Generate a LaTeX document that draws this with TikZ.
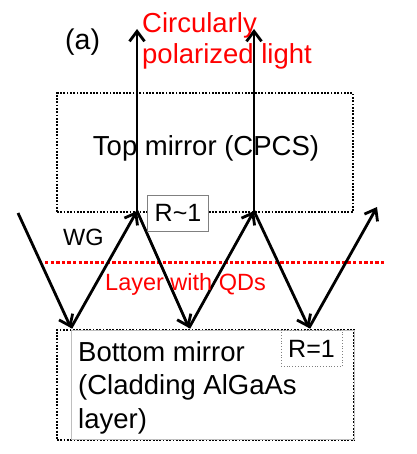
\documentclass[tikz,border=0pt]{standalone}
\usepackage{fontspec}
\setmainfont{Liberation Sans}
\usetikzlibrary{arrows.meta,positioning}

\begin{document}
\begin{tikzpicture}[x=1pt,y=-1pt,
		ray/.style={line width=2.8pt,-{Straight Barb[length=10pt,width=15pt]}},
		mirror/.style={draw,line width=2pt,dash pattern=on 1.8pt off 1.5pt},
		rbox/.style={draw=gray,line width=0.8pt,minimum width=61,minimum height=36,inner sep=0pt,font=\fontsize{25}{30}\selectfont},
		lbl/.style={inner sep=0pt,anchor=base west,font=\fontsize{27.5}{31.5}\selectfont}]
		\useasboundingbox (0,0) rectangle (416,454);
		% mirrors
		\node[mirror,minimum width=296,minimum height=119] (top) at (205,152.5) {};
		\node[lbl,anchor=base] (toplbl) at (206,156) {Top mirror (CPCS)};
		\node[mirror,minimum width=297,minimum height=110] (bot) at (205.5,384.5) {};
		\node[draw=gray!50,line width=0.6pt,minimum width=283,minimum height=109,inner sep=0pt] (botbox) at (212.5,384.5) {};
		\node[lbl,anchor=west,align=left,font=\fontsize{27.5}{33.5}\selectfont] (botlbl) at (78,387.5)
			{Bottom mirror\\(Cladding AlGaAs\\layer)};
		% layer with QDs
		\coordinate (qa) at (45,262);
		\coordinate (qb) at (386,262);
		\draw[red,line width=3pt,dash pattern=on 3.3pt off 2.3pt] (qa) -- (qb);
		% zigzag in the WG
		\coordinate (s)  at (18,213);
		\coordinate (b1) at (71,328);
		\coordinate (t1) at (137,211);
		\coordinate (b2) at (189,328);
		\coordinate (t2) at (254,211);
		\coordinate (b3) at (309,328);
		\coordinate (e)  at (377,207);
		\coordinate (o1) at (137,29);
		\coordinate (o2) at (254,29);
		\path[ray]
		(s)  edge (b1)
		(b1) edge (t1)
		(t1) edge (b2)
		(b2) edge (t2)
		(t2) edge (b3)
		(b3) edge (e)
		(t1) edge (o1)
		(t2) edge (o2);
		% labels
		\node[rbox,fill=white] (r1) at (178,213) {R\textasciitilde 1};
		\node[rbox,dotted] (r2) at (311.5,348.5) {R=1};
		\node[lbl,font=\fontsize{28.5}{32}\selectfont] (a) at (65,50) {(a)};
		\node[lbl,font=\fontsize{23.5}{27}\selectfont] (wg) at (63,245) {WG};
		\node[lbl,text=red,font=\fontsize{23.5}{28}\selectfont] (qd) at (105,290) {Layer with QDs};
		\node[lbl,text=red,anchor=west,align=left] (cpl) at (142,41) {Circularly\\polarized light};
	\end{tikzpicture}
\end{document}
